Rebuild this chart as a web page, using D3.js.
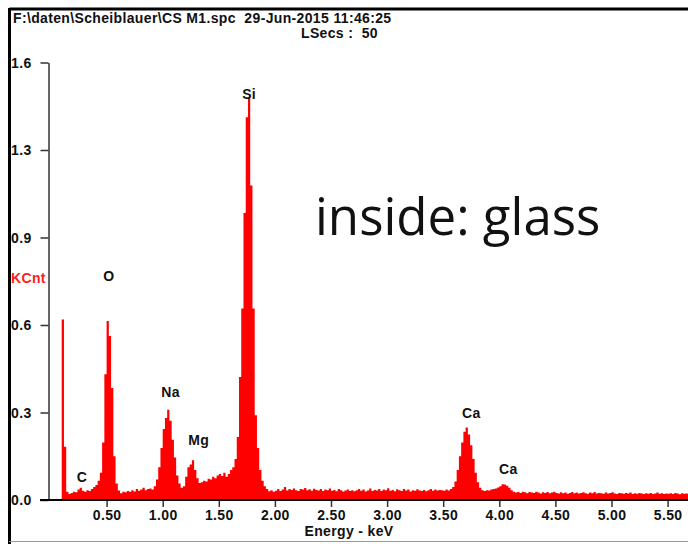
<!DOCTYPE html>
<html>
<head>
<meta charset="utf-8">
<script src="https://cdn.jsdelivr.net/npm/d3@7"></script>
<style>
  html, body { margin: 0; padding: 0; background: #fff; }
  svg { display: block; }
  .lbl { font-family: "Liberation Sans", Arial, sans-serif; font-weight: bold; font-size: 14px; letter-spacing: 0.35px; fill: #111; white-space: pre; }
</style>
</head>
<body>
<div id="chart"></div>
<script>
// spectrum: counts (KCnt) per 0.02 keV channel, first channel at 0.10 keV
const startKeV = 0.10;
const binKeV = 0.02;
const counts = [
  0.66, 0.195, 0.03, 0.022, 0.026, 0.03, 0.028, 0.038, 0.045, 0.034,   // 0.10
  0.03, 0.036, 0.033, 0.04, 0.048, 0.055, 0.07, 0.10, 0.21, 0.46,      // 0.30
  0.655, 0.60, 0.41, 0.16, 0.06, 0.035, 0.025, 0.03, 0.028, 0.033,     // 0.50
  0.03, 0.036, 0.031, 0.04, 0.034, 0.038, 0.045, 0.036, 0.04, 0.042,   // 0.70
  0.038, 0.05, 0.075, 0.12, 0.19, 0.26, 0.30, 0.33, 0.29, 0.22,        // 0.90
  0.155, 0.09, 0.06, 0.045, 0.05, 0.085, 0.12, 0.13, 0.145, 0.11,      // 1.10
  0.08, 0.062, 0.065, 0.07, 0.068, 0.078, 0.075, 0.085, 0.08, 0.09,    // 1.30
  0.095, 0.088, 0.10, 0.085, 0.095, 0.11, 0.12, 0.15, 0.23, 0.45,      // 1.50
  0.70, 1.05, 1.40, 1.47, 1.15, 0.70, 0.31, 0.19, 0.11, 0.07,          // 1.70
  0.05, 0.04, 0.032, 0.036, 0.03, 0.034, 0.04, 0.033, 0.038, 0.048,    // 1.90
  0.035, 0.04, 0.037, 0.042, 0.036, 0.033, 0.04, 0.038, 0.044, 0.036,  // 2.10
  0.039, 0.034, 0.041, 0.037, 0.035, 0.04, 0.033, 0.038, 0.036, 0.042, // 2.30
  0.034, 0.037, 0.032, 0.04, 0.036, 0.031, 0.035, 0.038, 0.033, 0.036, // 2.50
  0.032, 0.036, 0.04, 0.034, 0.038, 0.031, 0.035, 0.042, 0.033, 0.037, // 2.70
  0.035, 0.04, 0.033, 0.038, 0.036, 0.043, 0.034, 0.037, 0.032, 0.039, // 2.90
  0.036, 0.033, 0.04, 0.035, 0.038, 0.031, 0.036, 0.034, 0.039, 0.035, // 3.10
  0.033, 0.037, 0.032, 0.036, 0.04, 0.034, 0.038, 0.035, 0.037, 0.036, // 3.30
  0.034, 0.038, 0.035, 0.04, 0.048, 0.068, 0.11, 0.16, 0.21, 0.25,     // 3.50
  0.265, 0.24, 0.20, 0.15, 0.10, 0.065, 0.045, 0.036, 0.033, 0.036,    // 3.70
  0.035, 0.038, 0.04, 0.042, 0.046, 0.05, 0.058, 0.057, 0.052, 0.045,  // 3.90
  0.036, 0.03, 0.027, 0.029, 0.026, 0.03, 0.028, 0.025, 0.029, 0.027,  // 4.10
  0.026, 0.03, 0.027, 0.024, 0.028, 0.026, 0.029, 0.025, 0.027, 0.03,  // 4.30
  0.026, 0.024, 0.028, 0.025, 0.027, 0.023, 0.026, 0.029, 0.025, 0.027, // 4.50
  0.024, 0.026, 0.028, 0.025, 0.023, 0.027, 0.025, 0.029, 0.024, 0.026, // 4.70
  0.025, 0.023, 0.027, 0.024, 0.026, 0.028, 0.024, 0.022, 0.026, 0.025, // 4.90
  0.023, 0.026, 0.024, 0.027, 0.022, 0.025, 0.023, 0.026, 0.024, 0.022, // 5.10
  0.025, 0.023, 0.026, 0.022, 0.024, 0.027, 0.023, 0.025, 0.022, 0.024, // 5.30
  0.023, 0.025, 0.022, 0.026, 0.024, 0.021, 0.025, 0.023, 0.024, 0.022  // 5.50
];

// element labels: name, label centre (keV), label baseline (KCnt)
const peakNames = ["C", "O", "Na", "Mg", "Si", "Ca", "Ca"];
const peakKeV = [0.28, 0.52, 1.07, 1.32, 1.77, 3.75, 4.08];
const peakLabelCnt = [0.066, 0.80, 0.377, 0.20, 1.467, 0.30, 0.095];

const xTicks = [0.5, 1.0, 1.5, 2.0, 2.5, 3.0, 3.5, 4.0, 4.5, 5.0, 5.5];
const yTicks = [0, 0.32, 0.64, 0.96, 1.28, 1.6];
const yTickLabels = ["0.0", "0.3", "0.6", "0.9", "1.3", "1.6"];

const headerText = "F:\\daten\\Scheiblauer\\CS M1.spc  29-Jun-2015 11:46:25";
const lsecsText = "LSecs :  50";
const noteText = "inside: glass";

const width = 688, height = 544;
const svg = d3.select("#chart").append("svg")
  .attr("width", width).attr("height", height);

const x = d3.scaleLinear().domain([0, 1]).range([50.5, 162.7]);
const y = d3.scaleLinear().domain([0, 1.6]).range([500, 62.5]);

// outer frame
svg.append("line").attr("x1", 9.5).attr("x2", width).attr("y1", 9).attr("y2", 9)
  .attr("stroke", "#000").attr("stroke-width", 3);
svg.append("line").attr("x1", 9.5).attr("x2", 9.5).attr("y1", 8).attr("y2", height)
  .attr("stroke", "#000").attr("stroke-width", 3);
svg.append("line").attr("x1", 9).attr("x2", width).attr("y1", 541.5).attr("y2", 541.5)
  .attr("stroke", "#999").attr("stroke-width", 1);

// header
svg.append("text").attr("class", "lbl").attr("x", 13).attr("y", 23).text(headerText);
svg.append("text").attr("class", "lbl").attr("x", 378).attr("y", 38)
  .attr("text-anchor", "end").text(lsecsText);

// spectrum
const data = counts.map((c, i) => ({ e: startKeV + i * binKeV, c }));
data.push({ e: startKeV + counts.length * binKeV, c: counts[counts.length - 1] });
const area = d3.area()
  .x(d => x(d.e)).y0(y(0)).y1(d => y(d.c))
  .curve(d3.curveStepAfter);
svg.append("path").datum(data).attr("d", area).attr("fill", "#ff0000");

// y axis
const yAxis = svg.append("g").attr("transform", "translate(48.5,0)")
  .call(d3.axisLeft(y).tickValues(yTicks).tickSize(8).tickSizeOuter(0).tickFormat(""));
yAxis.select(".domain").attr("stroke", "#333").attr("stroke-width", 1.5);
yAxis.selectAll(".tick line").attr("stroke", "#333").attr("stroke-width", 1.5);
svg.selectAll(".ylab").data(yTicks).join("text")
  .attr("class", "lbl ylab").attr("x", 11).attr("y", d => y(d)).attr("dy", "0.36em")
  .text((d, i) => yTickLabels[i]);

// x axis
const xAxis = svg.append("g").attr("transform", "translate(0,500)")
  .call(d3.axisBottom(x).tickValues(xTicks).tickSize(7).tickSizeOuter(0).tickFormat(d3.format(".2f")));
xAxis.select(".domain").remove();
xAxis.selectAll(".tick line").attr("stroke", "#333").attr("stroke-width", 1.5);
xAxis.selectAll(".tick text").attr("class", "lbl").attr("y", 10).attr("dy", "0.71em");
svg.append("line").attr("x1", 40).attr("x2", width).attr("y1", 500).attr("y2", 500)
  .attr("stroke", "#000").attr("stroke-width", 2);

svg.append("text").attr("class", "lbl").attr("x", 349).attr("y", 536)
  .attr("text-anchor", "middle").text("Energy - keV");
svg.append("text").attr("class", "lbl").attr("x", 11).attr("y", 283)
  .style("fill", "#ff2020").text("KCnt");

// element labels
svg.selectAll(".peak").data(peakNames).join("text")
  .attr("class", "lbl peak").attr("text-anchor", "middle")
  .attr("x", (d, i) => x(peakKeV[i])).attr("y", (d, i) => y(peakLabelCnt[i]))
  .text(d => d);

svg.append("text").attr("x", 315).attr("y", 235)
  .style("font-family", "'Open Sans', sans-serif").style("font-size", "51px").style("fill", "#111")
  .text(noteText);
</script>
</body>
</html>
